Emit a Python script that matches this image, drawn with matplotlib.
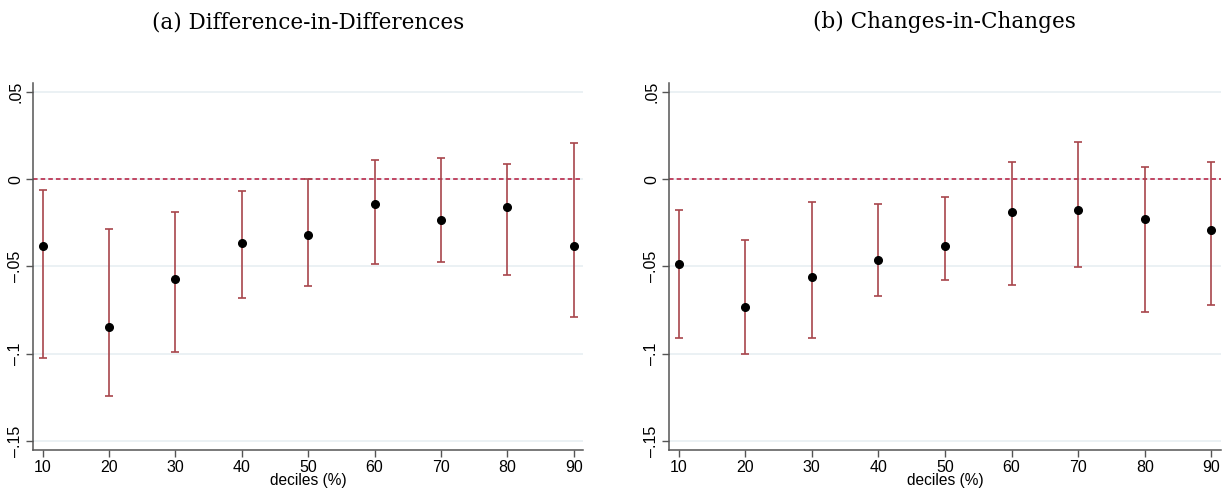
import matplotlib
matplotlib.use("Agg")
import matplotlib.pyplot as plt

deciles = [10, 20, 30, 40, 50, 60, 70, 80, 90]

# (a) difference-in-differences
did_est = [-0.0385, -0.0845, -0.0572, -0.0364, -0.0322, -0.0145, -0.0235, -0.0162, -0.0383]
did_hi = [-0.0063, -0.0288, -0.0191, -0.0070, 0.0000, 0.0109, 0.0120, 0.0088, 0.0204]
did_lo = [-0.1022, -0.1243, -0.0990, -0.0683, -0.0612, -0.0484, -0.0473, -0.0547, -0.0789]

# (b) changes-in-changes
cic_est = [-0.0488, -0.0734, -0.0563, -0.0461, -0.0385, -0.0189, -0.0177, -0.0229, -0.0290]
cic_hi = [-0.0177, -0.0347, -0.0130, -0.0141, -0.0105, 0.0099, 0.0214, 0.0069, 0.0099]
cic_lo = [-0.0908, -0.0999, -0.0912, -0.0669, -0.0576, -0.0605, -0.0503, -0.0763, -0.0719]

yticks = [-0.15, -0.1, -0.05, 0, 0.05]
ytick_labels = ["\u2013.15", "\u2013.1", "\u2013.05", "0", ".05"]
titles = ["(a) Difference-in-Differences", "(b) Changes-in-Changes"]

fig = plt.figure(figsize=(12.25, 4.92), dpi=100)
ax_a = fig.add_axes([0.0269, 0.0854, 0.449, 0.746])
ax_b = fig.add_axes([0.5461, 0.0854, 0.4504, 0.746])

panels = [(ax_a, did_est, did_lo, did_hi), (ax_b, cic_est, cic_lo, cic_hi)]

for (ax, est, lo, hi), title in zip(panels, titles):
    err_lo = [e - l for e, l in zip(est, lo)]
    err_hi = [h - e for e, h in zip(est, hi)]
    ax.set_xlim(8.55, 91.4)
    ax.set_ylim(-0.155, 0.055)
    for t in yticks:
        ax.axhline(t, color="#e8eff2", lw=1.2, zorder=0)
    ax.axhline(0, color="#b5173a", lw=1.1, ls=(0, (3, 2)), zorder=1)
    ax.errorbar(deciles, est, yerr=[err_lo, err_hi], fmt="none",
                ecolor="#a8454c", elinewidth=1.2, capsize=2.8, capthick=1.2, zorder=2)
    ax.plot(deciles, est, "o", color="black", ms=5.5, zorder=3)

    ax.set_xticks(deciles)
    ax.set_xticklabels([str(d) for d in deciles], fontsize=11.5, family="Liberation Sans")
    ax.set_yticks(yticks)
    ax.set_yticklabels(ytick_labels, fontsize=11.5, family="Liberation Sans",
                       rotation=90, va="center")
    ax.tick_params(axis="both", direction="out", length=5, width=1, color="#555555", pad=2)
    ax.set_xlabel("deciles (%)", fontsize=11.2, family="Liberation Sans", labelpad=-1)

    for s in ["top", "right"]:
        ax.spines[s].set_visible(False)
    ax.spines["left"].set_color("#555555")
    ax.spines["bottom"].set_color("#555555")
    ax.spines["left"].set_linewidth(1.1)
    ax.spines["bottom"].set_linewidth(1.1)

    ax.text(0.5, 1.165, title, transform=ax.transAxes, ha="center", va="center",
            fontsize=15.5, family="DejaVu Serif")

fig.savefig("out.png", dpi=100)
